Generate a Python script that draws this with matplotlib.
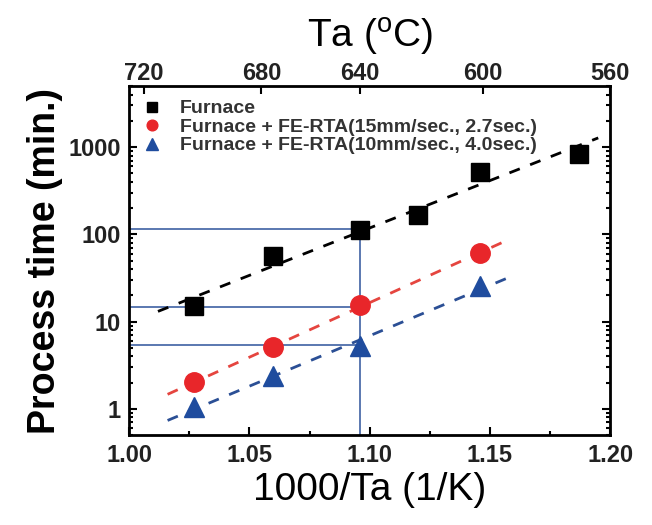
import matplotlib.pyplot as plt
import numpy as np
from matplotlib.ticker import LogLocator, NullFormatter, MultipleLocator

plt.rcParams['font.family'] = ['Liberation Sans', 'DejaVu Sans']

# data (x = 1000/Ta, y = process time in min.)
x_furnace = [1.027, 1.060, 1.096, 1.120, 1.146, 1.187]
y_furnace = [15.1, 56, 111, 165, 523, 840]
x_rta15 = [1.027, 1.060, 1.096, 1.146]
y_rta15 = [2.02, 5.08, 15.4, 61]
x_rta10 = [1.027, 1.060, 1.096, 1.146]
y_rta10 = [1.05, 2.4, 5.3, 25.6]

# dashed fit ranges
fit_furnace = [1.012, 1.195]
fit_rta15 = [1.016, 1.157]
fit_rta10 = [1.016, 1.157]

# guide lines (blue)
guide_x = 1.096
guide_y = [116, 14.9, 5.4]

top_ticks = [1.006, 1.055, 1.096, 1.147, 1.200]
top_labels = ['720', '680', '640', '600', '560']

red = '#e8262a'
blue = '#1f4c9e'

fig = plt.figure(figsize=(6.52, 5.25), dpi=100)
ax = fig.add_axes([0.198, 0.171, 0.738, 0.665])

# guide lines
ax.plot([guide_x, guide_x], [0.5, guide_y[0]], color='#5a78b0', lw=1.4, zorder=1)
for gy in guide_y:
    ax.plot([1.0, guide_x], [gy, gy], color='#5a78b0', lw=1.4, zorder=1)

def fit_line(xs, ys, rng, col):
    p = np.polyfit(xs, np.log10(ys), 1)
    xx = np.array(rng)
    ax.plot(xx, 10 ** np.polyval(p, xx), ls=(0, (4, 4)), color=col, lw=2, zorder=2)

fit_line(x_furnace, y_furnace, fit_furnace, 'black')
fit_line(x_rta15, y_rta15, fit_rta15, '#e5453f')
fit_line(x_rta10, y_rta10, fit_rta10, '#2b4f95')

ax.plot(x_furnace, y_furnace, 's', color='black', ms=13, ls='none',
        label='Furnace', zorder=3)
ax.plot(x_rta15, y_rta15, 'o', color=red, ms=14, ls='none',
        label='Furnace + FE-RTA(15mm/sec., 2.7sec.)', zorder=3)
ax.plot(x_rta10, y_rta10, '^', color=blue, ms=15, ls='none',
        label='Furnace + FE-RTA(10mm/sec., 4.0sec.)', zorder=3)

ax.set_yscale('log')
ax.set_xlim(1.0, 1.2)
ax.set_ylim(0.5, 5000)
ax.xaxis.set_major_locator(MultipleLocator(0.05))
ax.xaxis.set_minor_locator(MultipleLocator(0.025))
ax.yaxis.set_minor_locator(LogLocator(base=10, subs=np.arange(2, 10), numticks=10))
ax.yaxis.set_minor_formatter(NullFormatter())
ax.set_yticks([1, 10, 100, 1000])
ax.set_yticklabels(['1', '10', '100', '1000'])
ax.set_xticks([1.00, 1.05, 1.10, 1.15, 1.20])
ax.set_xticklabels(['1.00', '1.05', '1.10', '1.15', '1.20'])

ax.tick_params(which='both', direction='in', top=False, right=True, width=1.5)
ax.tick_params(which='major', length=6, labelsize=17, pad=6)
ax.tick_params(which='minor', length=3)
for lab in ax.get_xticklabels() + ax.get_yticklabels():
    lab.set_fontweight('bold')
    lab.set_color('#222222')
for s in ax.spines.values():
    s.set_linewidth(2)

ax.set_xlabel('1000/Ta (1/K)', fontsize=28, labelpad=4)
ax.set_ylabel('Process time (min.)', fontsize=27, fontweight='bold', labelpad=4)

ax2 = ax.twiny()
ax2.set_xlim(ax.get_xlim())
ax2.set_xticks(top_ticks)
ax2.set_xticklabels(top_labels)
ax2.tick_params(direction='in', length=6, width=1.5, labelsize=17, pad=1)
for lab in ax2.get_xticklabels():
    lab.set_fontweight('bold')
    lab.set_color('#222222')
ax2.set_xlabel(r'Ta ($\mathregular{^{o}}$C)', fontsize=28, labelpad=10)

leg = ax.legend(loc='upper left', frameon=False, handlelength=1,
                handletextpad=0.9, labelspacing=0.05, borderaxespad=0.2,
                borderpad=0.5, markerscale=0.55,
                prop={'weight': 'bold', 'size': 14})
for t in leg.get_texts():
    t.set_color('#333333')

fig.savefig('out.png', dpi=100)
